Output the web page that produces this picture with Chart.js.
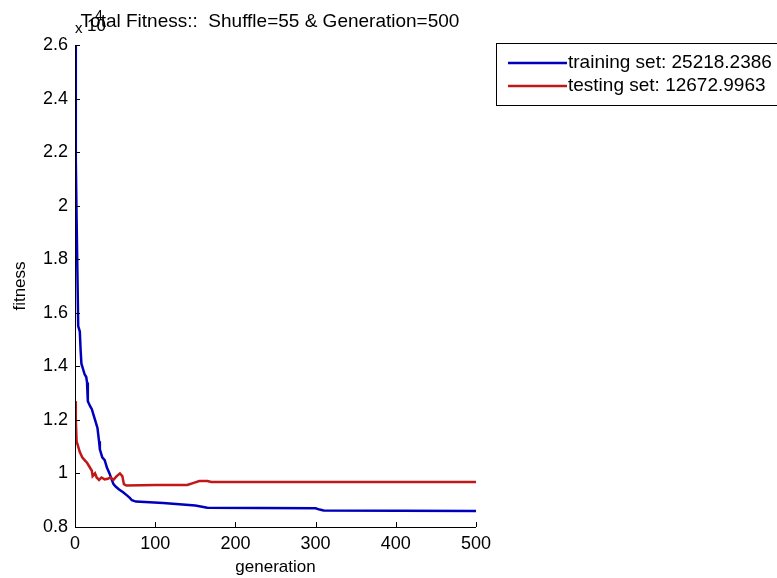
<!DOCTYPE html>
<html>
<head>
<meta charset="utf-8">
<script src="https://cdn.jsdelivr.net/npm/chart.js@4.4.1/dist/chart.umd.min.js"></script>
<style>
  html, body { margin: 0; padding: 0; background: #fff; }
  #wrap { width: 777px; height: 578px; }
</style>
</head>
<body>
<div id="wrap"><canvas id="fit" width="777" height="578"></canvas></div>
<script>
// generation / fitness
const trainGen = [0, 1, 2, 3, 4, 6, 7, 8, 10, 12, 14, 15, 16, 19, 21, 23, 25, 28, 30, 31, 34, 37, 40, 43, 46, 48, 51, 55, 60, 64, 68, 71, 76, 110, 118, 150, 165, 300, 305, 310, 500];
const trainFit = [26000, 21700, 19500, 17500, 15500, 15300, 14600, 14100, 13900, 13700, 13600, 13400, 12700, 12500, 12400, 12200, 12000, 11700, 11200, 10900, 10600, 10500, 10200, 10000, 9750, 9600, 9500, 9400, 9300, 9200, 9100, 9000, 8950, 8900, 8880, 8800, 8720, 8700, 8650, 8620, 8600];

const testGen = [0, 1, 2, 4, 6, 9, 12, 15, 18, 21, 22, 25, 27, 30, 33, 37, 41, 44, 48, 52, 56, 59, 61, 64, 100, 140, 148, 155, 165, 170, 500];
const testFit = [12700, 12000, 11200, 11000, 10800, 10600, 10500, 10400, 10250, 10100, 9900, 10000, 9850, 9760, 9850, 9780, 9800, 9850, 9760, 9900, 10000, 9900, 9600, 9550, 9570, 9570, 9650, 9720, 9720, 9680, 9680];

const seriesNames = ['training set: 25218.2386', 'testing set: 12672.9963'];
const seriesColors = ['#0000bc', '#c01818'];
const titleText = 'Total Fitness::  Shuffle=55 & Generation=500';

const FONT = '"Liberation Sans", Arial, sans-serif';

function pts(xs, ys) {
    return xs.map((x, i) => ({ x: x, y: ys[i] }));
}

// inward tick marks, MATLAB style
const inTicks = {
    id: 'inTicks',
    afterDraw(chart) {
        const ctx = chart.ctx;
        const xs = chart.scales.x, ys = chart.scales.y;
        const a = chart.chartArea;
        ctx.save();
        ctx.strokeStyle = '#000';
        ctx.lineWidth = 1;
        ctx.beginPath();
        ctx.moveTo(a.left + 0.5, a.top);
        ctx.lineTo(a.left + 0.5, a.bottom + 0.5);
        ctx.lineTo(a.right, a.bottom + 0.5);
        xs.ticks.forEach(t => {
            const px = Math.round(xs.getPixelForValue(t.value)) + 0.5;
            ctx.moveTo(px, a.bottom);
            ctx.lineTo(px, a.bottom - 5);
        });
        ys.ticks.forEach(t => {
            const py = Math.round(ys.getPixelForValue(t.value)) + 0.5;
            ctx.moveTo(a.left, py);
            ctx.lineTo(a.left + 5, py);
        });
        ctx.stroke();

        // title and exponent
        ctx.fillStyle = '#000';
        ctx.textBaseline = 'middle';
        ctx.textAlign = 'center';
        ctx.font = '19px ' + FONT;
        ctx.fillText(titleText, 270, 22);
        ctx.textAlign = 'left';
        ctx.font = '15px ' + FONT;
        ctx.fillText('x', 75, 29);
        ctx.font = '17px ' + FONT;
        ctx.fillText('10', 87, 26);
        ctx.font = '14px ' + FONT;
        ctx.fillText('4', 95, 16);

        // legend box
        ctx.strokeRect(496.5, 43.5, 300, 62);
        ctx.font = '19px ' + FONT;
        chart.data.datasets.forEach((ds, i) => {
            const yy = 63 + i * 23;
            ctx.strokeStyle = ds.borderColor;
            ctx.lineWidth = 2.5;
            ctx.beginPath();
            ctx.moveTo(508, yy);
            ctx.lineTo(567, yy);
            ctx.stroke();
            ctx.fillStyle = '#000';
            ctx.fillText(ds.label, 568, yy);
        });
        ctx.restore();
    }
};

new Chart(document.getElementById('fit'), {
    type: 'line',
    data: {
        datasets: [
            {
                label: seriesNames[0],
                data: pts(trainGen, trainFit),
                borderColor: seriesColors[0],
                borderWidth: 2.5,
                pointRadius: 0,
                tension: 0,
                order: 2
            },
            {
                label: seriesNames[1],
                data: pts(testGen, testFit),
                borderColor: seriesColors[1],
                borderWidth: 2.5,
                pointRadius: 0,
                tension: 0,
                order: 1
            }
        ]
    },
    options: {
        responsive: false,
        animation: false,
        events: [],
        layout: {
            padding: { left: 0, top: 45, right: 301, bottom: 0 }
        },
        scales: {
            x: {
                type: 'linear',
                min: 0,
                max: 500,
                afterFit(s) { s.height = 51; },
                grid: { display: false, drawTicks: false, tickLength: 0 },
                border: { display: false },
                ticks: {
                    stepSize: 100,
                    color: '#000',
                    padding: 6,
                    maxRotation: 0,
                    font: { family: FONT, size: 18 }
                },
                title: {
                    display: true,
                    text: 'generation',
                    color: '#000',
                    padding: { top: 0, bottom: 0 },
                    font: { family: FONT, size: 17 }
                }
            },
            y: {
                min: 8000,
                max: 26000,
                afterFit(s) { s.width = 75; },
                grid: { display: false, drawTicks: false, tickLength: 0 },
                border: { display: false },
                ticks: {
                    stepSize: 2000,
                    color: '#000',
                    padding: 7,
                    font: { family: FONT, size: 18 },
                    callback: v => String(Math.round(v / 1000) / 10)
                },
                title: {
                    display: true,
                    text: 'fitness',
                    color: '#000',
                    padding: { top: 10, bottom: 0 },
                    font: { family: FONT, size: 17 }
                }
            }
        },
        plugins: {
            legend: { display: false },
            tooltip: { enabled: false }
        }
    },
    plugins: [inTicks]
});
</script>
</body>
</html>
